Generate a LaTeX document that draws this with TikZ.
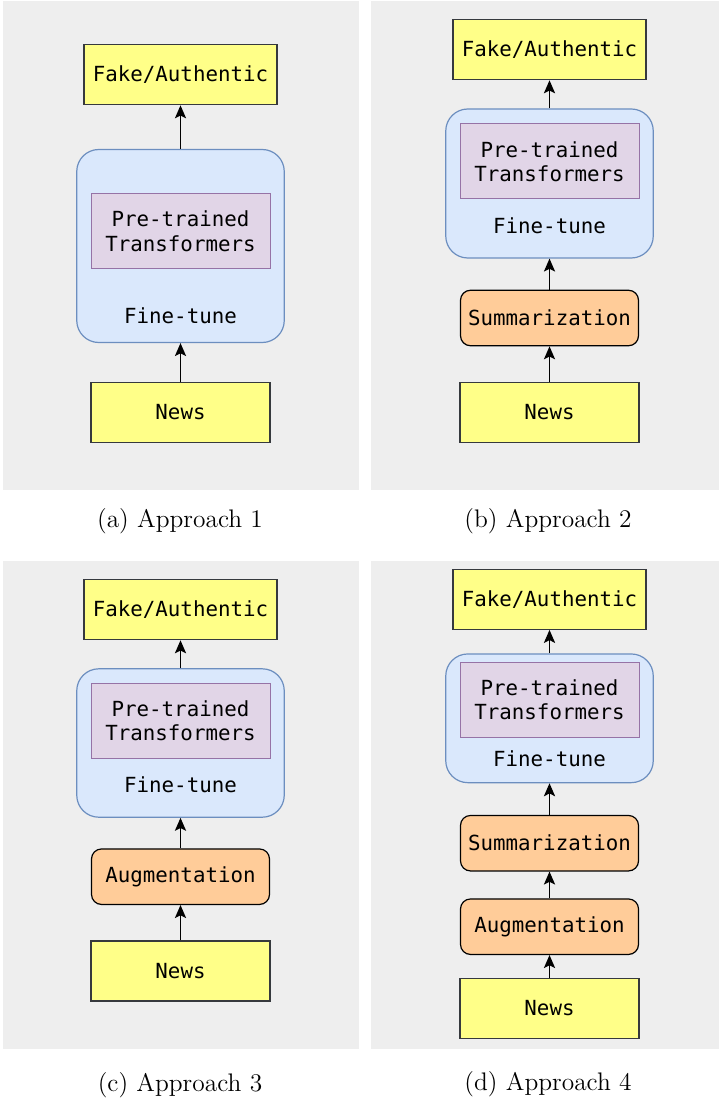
\documentclass[tikz,border=0pt]{standalone}
\usepackage{fontspec}
\usetikzlibrary{arrows.meta}
\newfontfamily\monofont{DejaVu Sans Mono}

\definecolor{panelgray}{HTML}{EEEEEE}
\definecolor{ioyellow}{HTML}{FFFF88}
\definecolor{ioline}{HTML}{36393D}
\definecolor{ftfill}{HTML}{DAE8FC}
\definecolor{ftline}{HTML}{6C8EBF}
\definecolor{ptfill}{HTML}{E1D5E7}
\definecolor{ptline}{HTML}{9673A6}
\definecolor{procfill}{HTML}{FFCC99}

\tikzset{
  boxtext/.style={font={\monofont\fontsize{10.4}{12.2}\selectfont}, inner sep=0pt, align=center},
  io/.style={boxtext, draw=ioline, fill=ioyellow, line width=0.6pt, minimum height=30pt},
  proc/.style={boxtext, draw=black, fill=procfill, line width=0.6pt, rounded corners=5pt,
    minimum width=89pt, minimum height=27.75pt},
  pretrained/.style={boxtext, draw=ptline, fill=ptfill, line width=0.5pt,
    minimum width=89.5pt, minimum height=37.5pt},
  finetune/.style={draw=ftline, fill=ftfill, line width=0.6pt, rounded corners=11pt,
    minimum width=103.75pt, inner sep=0pt},
  flow/.style={-{Stealth[length=6.5pt,width=5.6pt,inset=1.4pt]}, line width=0.7pt},
  caption/.style={font=\fontsize{12.7}{15}\selectfont, inner sep=0pt}
}

\begin{document}
\begin{tikzpicture}[x=0.5pt, y=-0.5pt]
  \useasboundingbox (0,0) rectangle (719,1101);

  % backgrounds
  \fill[panelgray] (3,1) rectangle (359,490);
  \fill[panelgray] (371,1) rectangle (719,490);
  \fill[panelgray] (3,561) rectangle (359,1049);
  \fill[panelgray] (371,561) rectangle (719,1049);

  % (a) approach 1
  \node[io, minimum width=96.5pt] (a-out) at (180.5,74.75) {Fake/Authentic};
  \node[finetune, minimum height=96.5pt] (a-ft) at (180.5,246) {};
  \node[pretrained] (a-pt) at (180.5,231.25) {Pre-trained\\Transformers};
  \node[boxtext] (a-ftl) at (180.5,315.5) {Fine-tune};
  \node[io, minimum width=89.5pt] (a-news) at (180.5,412.5) {News};
  \draw[flow] (a-news) -- (a-ft);
  \draw[flow] (a-ft) -- (a-out);
  \node[caption] (a-cap) at (180,521.5) {(a) Approach 1};

  % (b) approach 2
  \node[io, minimum width=96.5pt] (b-out) at (549.5,49.7) {Fake/Authentic};
  \node[finetune, minimum height=74.5pt] (b-ft) at (549.5,183.5) {};
  \node[pretrained] (b-pt) at (549.5,161.5) {Pre-trained\\Transformers};
  \node[boxtext] (b-ftl) at (549.5,225.6) {Fine-tune};
  \node[proc] (b-sum) at (549.5,318) {Summarization};
  \node[io, minimum width=89.5pt] (b-news) at (549.5,412.5) {News};
  \draw[flow] (b-news) -- (b-sum);
  \draw[flow] (b-sum) -- (b-ft);
  \draw[flow] (b-ft) -- (b-out);
  \node[caption] (b-cap) at (548,521.5) {(b) Approach 2};

  % (c) approach 3
  \node[io, minimum width=96.5pt] (c-out) at (180.5,609.7) {Fake/Authentic};
  \node[finetune, minimum height=74.2pt] (c-ft) at (180.5,743) {};
  \node[pretrained] (c-pt) at (180.5,721) {Pre-trained\\Transformers};
  \node[boxtext] (c-ftl) at (180.5,785) {Fine-tune};
  \node[proc] (c-aug) at (180.5,876.7) {Augmentation};
  \node[io, minimum width=89.5pt] (c-news) at (180.5,971) {News};
  \draw[flow] (c-news) -- (c-aug);
  \draw[flow] (c-aug) -- (c-ft);
  \draw[flow] (c-ft) -- (c-out);
  \node[caption] (c-cap) at (180,1085) {(c) Approach 3};

  % (d) approach 4
  \node[io, minimum width=96.5pt] (d-out) at (549.5,599.3) {Fake/Authentic};
  \node[finetune, minimum height=64.35pt] (d-ft) at (549.5,718.3) {};
  \node[pretrained] (d-pt) at (549.5,700) {Pre-trained\\Transformers};
  \node[boxtext] (d-ftl) at (549.5,759) {Fine-tune};
  \node[proc] (d-sum) at (549.5,843.2) {Summarization};
  \node[proc] (d-aug) at (549.5,926.7) {Augmentation};
  \node[io, minimum width=89.5pt] (d-news) at (549.5,1008.2) {News};
  \draw[flow] (d-news) -- (d-aug);
  \draw[flow] (d-aug) -- (d-sum);
  \draw[flow] (d-sum) -- (d-ft);
  \draw[flow] (d-ft) -- (d-out);
  \node[caption] (d-cap) at (548,1084) {(d) Approach 4};
\end{tikzpicture}
\end{document}
